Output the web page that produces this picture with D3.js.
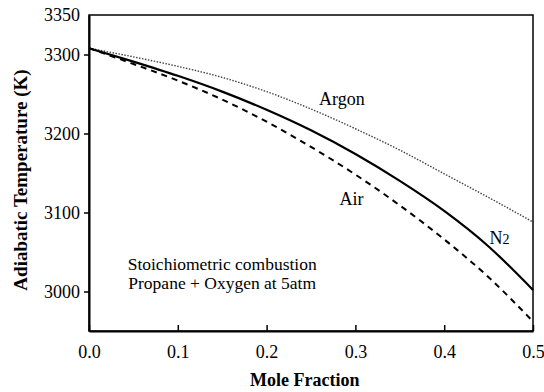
<!DOCTYPE html>
<html>
<head>
<meta charset="utf-8">
<script src="https://cdn.jsdelivr.net/npm/d3@7"></script>
<style>
  body { margin: 0; background: #fff; }
  svg, svg text { font-family: "Liberation Serif", "DejaVu Serif", "Times New Roman", Times, serif; }
  .axis path, .axis line { stroke: #000; }
</style>
</head>
<body>
<div id="chart"></div>
<script>
// data
const moleFraction = [0, 0.05, 0.1, 0.15, 0.2, 0.25, 0.3, 0.35, 0.4, 0.45, 0.5];
const argonTemp = [3308, 3297, 3285, 3271, 3253, 3231, 3206, 3179, 3149, 3119, 3088];
const n2Temp    = [3308, 3291, 3273, 3253, 3230, 3204, 3174, 3140, 3102, 3057, 3002];
const airTemp   = [3308, 3288, 3267, 3243, 3215, 3183, 3148, 3109, 3066, 3018, 2962];
const xTicks = [0, 0.1, 0.2, 0.3, 0.4, 0.5];
const yTicks = [3000, 3100, 3200, 3300, 3350];
const noteLines = ["Stoichiometric combustion", "Propane + Oxygen at 5atm"];

let margin = {top: 15, right: 11, bottom: 61, left: 89};
let width = 544;
let height = 392;
let innerWidth = width - margin.left - margin.right;
let innerHeight = height - margin.top - margin.bottom;

let svg = d3.select("#chart").append("svg")
    .attr("width", width)
    .attr("height", height);

let g = svg.append("g")
    .attr("transform", "translate(" + margin.left + "," + margin.top + ")");

let xScale = d3.scaleLinear().domain([0, 0.5]).range([0, innerWidth]);
let yScale = d3.scaleLinear().domain([2950, 3350]).range([innerHeight, 0]);

// frame
g.append("rect")
    .attr("width", innerWidth)
    .attr("height", innerHeight)
    .attr("fill", "none")
    .attr("stroke", "#000")
    .attr("stroke-width", 1.5);

// x axis, ticks point inward
let xAxis = d3.axisBottom(xScale)
    .tickValues(xTicks)
    .tickFormat(d3.format(".1f"))
    .tickSizeInner(-6)
    .tickSizeOuter(0)
    .tickPadding(14);

g.append("g")
    .attr("class", "x-axis axis")
    .attr("transform", "translate(0," + innerHeight + ")")
    .call(xAxis)
    .attr("font-family", null)
    .attr("font-size", 18)
    .call(a => a.select(".domain").attr("stroke-width", 2))
    .call(a => a.selectAll(".tick line").attr("stroke-width", 1.5));

// y axis, ticks point outward
let yAxis = d3.axisLeft(yScale)
    .tickValues(yTicks)
    .tickFormat(d3.format("d"))
    .tickSizeInner(5)
    .tickSizeOuter(0)
    .tickPadding(4);

g.append("g")
    .attr("class", "y-axis axis")
    .call(yAxis)
    .attr("font-family", null)
    .attr("font-size", 18)
    .call(a => a.select(".domain").attr("stroke-width", 2))
    .call(a => a.selectAll(".tick line").attr("stroke-width", 1.5))
    .call(a => a.selectAll(".tick").filter(d => d === 3350).select("line").remove());

// axis titles
svg.append("text")
    .attr("x", margin.left + xScale(0.243))
    .attr("y", 386)
    .attr("text-anchor", "middle")
    .attr("font-weight", "bold")
    .attr("font-size", 18)
    .text("Mole Fraction");

svg.append("text")
    .attr("transform", "translate(27,180) rotate(-90)")
    .attr("text-anchor", "middle")
    .attr("font-weight", "bold")
    .attr("font-size", 19)
    .text("Adiabatic Temperature (K)");

// lines
let line = d3.line()
    .x((d, i) => xScale(moleFraction[i]))
    .y(d => yScale(d))
    .curve(d3.curveMonotoneX);

g.append("path")
    .datum(argonTemp)
    .attr("fill", "none")
    .attr("stroke", "#444")
    .attr("stroke-width", 1.4)
    .attr("stroke-dasharray", "1.5,1.5")
    .attr("d", line);

g.append("path")
    .datum(airTemp)
    .attr("fill", "none")
    .attr("stroke", "#000")
    .attr("stroke-width", 2)
    .attr("stroke-dasharray", "6,5")
    .attr("d", line);

g.append("path")
    .datum(n2Temp)
    .attr("fill", "none")
    .attr("stroke", "#000")
    .attr("stroke-width", 2.2)
    .attr("d", line);

// series labels
g.append("text")
    .attr("x", xScale(0.259))
    .attr("y", yScale(3236))
    .attr("font-size", 18)
    .text("Argon");

g.append("text")
    .attr("x", xScale(0.282))
    .attr("y", yScale(3110))
    .attr("font-size", 18)
    .text("Air");

let n2 = g.append("text")
    .attr("x", xScale(0.451))
    .attr("y", yScale(3060))
    .attr("font-size", 18)
    .text("N");
n2.append("tspan").attr("font-size", 14).text("2");

// annotation
g.append("text")
    .attr("text-anchor", "middle")
    .attr("font-size", 17.5)
    .selectAll("tspan")
    .data(noteLines)
    .join("tspan")
    .attr("x", xScale(0.15))
    .attr("y", (d, i) => yScale(3027) + i * 19)
    .text(d => d);
</script>
</body>
</html>
